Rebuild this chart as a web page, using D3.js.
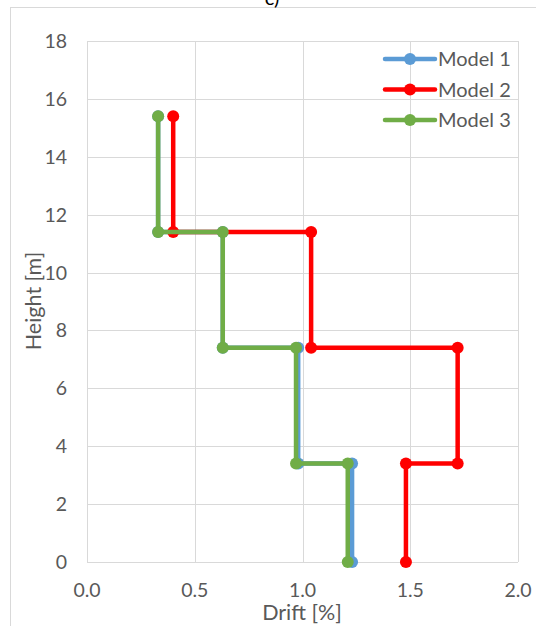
<!DOCTYPE html>
<html>
<head>
<meta charset="utf-8">
<script src="https://cdn.jsdelivr.net/npm/d3@7/dist/d3.min.js"></script>
<style>
  body { margin: 0; background: #fff; }
  text { font-family: Lato, "Open Sans", sans-serif; fill: #595959; }
  .grid line { stroke: #d9d9d9; stroke-width: 1; }
</style>
</head>
<body>
<svg id="chart" width="536" height="626"></svg>
<script>
  // story levels (m) and per-story drift (%)
  var levels = [0, 3.4, 7.4, 11.4, 15.4];
  var model1 = [1.23, 0.98, 0.63, 0.33];
  var model2 = [1.48, 1.72, 1.04, 0.40];
  var model3 = [1.21, 0.97, 0.63, 0.33];
  var names = ['Model 1', 'Model 2', 'Model 3'];
  var colors = ['#5b9bd5', '#ff0000', '#70ad47'];
  var xTicks = [0, 0.5, 1.0, 1.5, 2.0];
  var yTicks = [0, 2, 4, 6, 8, 10, 12, 14, 16, 18];

  var svg = d3.select('#chart');

  // outer chart border + panel caption (cut by the top edge, as in the source)
  svg.append('rect').attr('x', 10.5).attr('y', 7.5).attr('width', 560).attr('height', 640)
    .attr('fill', 'none').attr('stroke', '#d9d9d9');
  svg.append('text').attr('x', 272).attr('y', 5).attr('text-anchor', 'middle')
    .style('font-size', '20px').style('fill', '#000').text('c)');

  var x = d3.scaleLinear().domain([0, 2]).range([87, 518]);
  var y = d3.scaleLinear().domain([0, 18]).range([562, 41]);

  //gridlines
  var grid = svg.append('g').attr('class', 'grid');
  grid.selectAll('.gy').data(yTicks).enter().append('line')
    .attr('x1', x(0)).attr('x2', x(2))
    .attr('y1', d => Math.round(y(d)) + 0.5).attr('y2', d => Math.round(y(d)) + 0.5);
  grid.selectAll('.gx').data(xTicks).enter().append('line')
    .attr('y1', y(0)).attr('y2', y(18))
    .attr('x1', d => Math.round(x(d)) + 0.5).attr('x2', d => Math.round(x(d)) + 0.5);

  //tick labels
  svg.selectAll('.yl').data(yTicks).enter().append('text')
    .attr('x', 67).attr('y', d => y(d) + 7)
    .attr('text-anchor', 'end').style('font-size', '19.5px')
    .text(d => d);
  svg.selectAll('.xl').data(xTicks).enter().append('text')
    .attr('x', d => x(d)).attr('y', 597)
    .attr('text-anchor', 'middle').style('font-size', '19.5px')
    .text(d => d3.format('.1f')(d));

  //axis titles
  svg.append('text').attr('x', 302).attr('y', 620).attr('text-anchor', 'middle')
    .style('font-size', '21.5px').text('Drift [%]');
  svg.append('text').attr('transform', 'translate(41,301) rotate(-90)')
    .attr('text-anchor', 'middle').style('font-size', '21.5px').text('Height [m]');

  // build step profile: drift constant over each story
  function steps(drift) {
    var pts = [];
    drift.forEach((d, i) => {
      pts.push([d, levels[i]]);
      pts.push([d, levels[i + 1]]);
    });
    return pts;
  }

  var line = d3.line().x(d => x(d[0])).y(d => y(d[1]));
  [model1, model2, model3].forEach((m, i) => {
    var pts = steps(m);
    var g = svg.append('g');
    g.append('path').datum(pts).attr('d', line)
      .attr('fill', 'none').attr('stroke', colors[i]).attr('stroke-width', 4.5)
      .attr('stroke-linejoin', 'round');
    g.selectAll('circle').data(pts).enter().append('circle')
      .attr('cx', d => x(d[0])).attr('cy', d => y(d[1])).attr('r', 6)
      .attr('fill', colors[i]);
  });

  //legend
  var leg = svg.append('g');
  names.forEach((n, i) => {
    var ly = 59 + i * 30.5;
    leg.append('line').attr('x1', 385).attr('x2', 435).attr('y1', ly).attr('y2', ly)
      .attr('stroke', colors[i]).attr('stroke-width', 4.5).attr('stroke-linecap', 'round');
    leg.append('circle').attr('cx', 410).attr('cy', ly).attr('r', 6).attr('fill', colors[i]);
    leg.append('text').attr('x', 438).attr('y', ly + 7).style('font-size', '20px').text(n);
  });
</script>
</body>
</html>
